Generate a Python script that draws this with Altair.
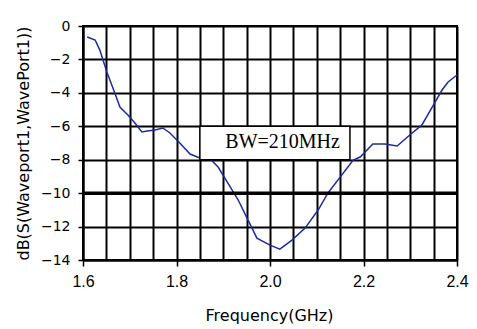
import altair as alt
import pandas as pd

# S11 trace
freq = [1.609, 1.626, 1.636, 1.651, 1.664, 1.679, 1.696, 1.711, 1.726, 1.737,
        1.754, 1.771, 1.786, 1.807, 1.829, 1.850, 1.872, 1.889, 1.910, 1.932,
        1.951, 1.972, 2.000, 2.021, 2.047, 2.075, 2.103, 2.124, 2.150, 2.165,
        2.178, 2.193, 2.220, 2.246, 2.272, 2.299, 2.325, 2.347, 2.368, 2.381,
        2.400]
s11 = [-0.66, -0.84, -1.44, -2.75, -3.71, -4.85, -5.33, -5.80, -6.34, -6.28,
       -6.22, -6.10, -6.40, -7.00, -7.66, -7.90, -7.96, -8.44, -9.40, -10.41,
       -11.49, -12.69, -13.11, -13.35, -12.81, -12.09, -11.01, -9.99, -9.04, -8.50,
       -8.02, -7.84, -7.06, -7.06, -7.18, -6.52, -5.92, -4.85, -3.83, -3.35,
       -2.93]

threshold = [-10]
bw_text = ["BW=210MHz"]
bw_box_f = [1.85, 2.171]
bw_box_db = [-6, -8]
bw_text_pos = [2.027, -7.0]

x_labels = [1.6, 1.8, 2.0, 2.2, 2.4]
x_grid = [round(1.6 + 0.05 * i, 2) for i in range(17)]
y_ticks = [-14, -12, -10, -8, -6, -4, -2, 0]

xscale = alt.Scale(domain=[1.6, 2.4], nice=False, zero=False)
yscale = alt.Scale(domain=[-14, 0], nice=False, zero=False)

major_test = "abs(datum.value*5 - round(datum.value*5)) < 0.001"

x_axis = alt.Axis(
    values=x_grid,
    title="Frequency(GHz)",
    labelExpr=f"{major_test} ? format(datum.value, '.1f') : ''",
    labelFont="Liberation Sans", labelFontSize=16, labelColor="black",
    labelPadding=7, labelOverlap=False, labelFlush=False,
    tickSize={"condition": {"test": major_test, "value": 6}, "value": 0},
    tickColor="black", tickWidth=1.5,
    grid=True, gridColor="black", gridWidth=2, gridOpacity=1,
    domainColor="black", domainWidth=2,
    titleFont="DejaVu Sans", titleFontSize=16, titleFontWeight="normal", titleColor="black",
    titleX=186, titleY=55, titleBaseline="middle", titleAlign="center",
)

y_axis = alt.Axis(
    values=y_ticks,
    title="dB(S(Waveport1,WavePort1))",
    labelFont="DejaVu Sans", labelFontSize=14, labelColor="black", labelPadding=8,
    tickSize=5, tickColor="black", tickWidth=1.5,
    grid=True, gridColor="black", gridWidth=2, gridOpacity=1,
    domainColor="black", domainWidth=2,
    titleFont="DejaVu Sans", titleFontSize=16, titleFontWeight="normal", titleColor="black",
    titleX=-60, titleY=117, titleAngle=270, titleAlign="center", titleBaseline="middle",
)

trace = pd.DataFrame({"f": freq, "db": s11})
thr = pd.DataFrame({"db": threshold})
box = pd.DataFrame({"f0": [bw_box_f[0]], "f1": [bw_box_f[1]],
                    "d0": [bw_box_db[0]], "d1": [bw_box_db[1]]})
lbl = pd.DataFrame({"f": [bw_text_pos[0]], "db": [bw_text_pos[1]], "t": bw_text})

line = alt.Chart(trace).mark_line(color="#1f2a9e", strokeWidth=1.5).encode(
    x=alt.X("f:Q", scale=xscale, axis=x_axis),
    y=alt.Y("db:Q", scale=yscale, axis=y_axis),
)

rule = alt.Chart(thr).mark_rule(color="black", strokeWidth=3.5).encode(
    y=alt.Y("db:Q", scale=yscale, axis=y_axis),
)

rect = alt.Chart(box).mark_rect(fill="white", stroke="black", strokeWidth=1.5).encode(
    x=alt.X("f0:Q", scale=xscale, axis=x_axis),
    x2="f1:Q",
    y=alt.Y("d0:Q", scale=yscale, axis=y_axis),
    y2="d1:Q",
)

text = alt.Chart(lbl).mark_text(
    font="Liberation Serif", fontSize=20, color="black",
    align="center", baseline="middle", dy=-1,
).encode(
    x=alt.X("f:Q", scale=xscale, axis=x_axis),
    y=alt.Y("db:Q", scale=yscale, axis=y_axis),
    text="t:N",
)

chart = alt.layer(line, rule, rect, text).properties(
    width=374, height=234,
    padding={"left": 83, "top": 26, "right": 20, "bottom": 69},
    autosize=alt.AutoSizeParams(type="none"),
    background="white",
).configure_view(stroke="black", strokeWidth=2)

chart.save("out.html", embed_options={"renderer": "svg", "actions": False})
